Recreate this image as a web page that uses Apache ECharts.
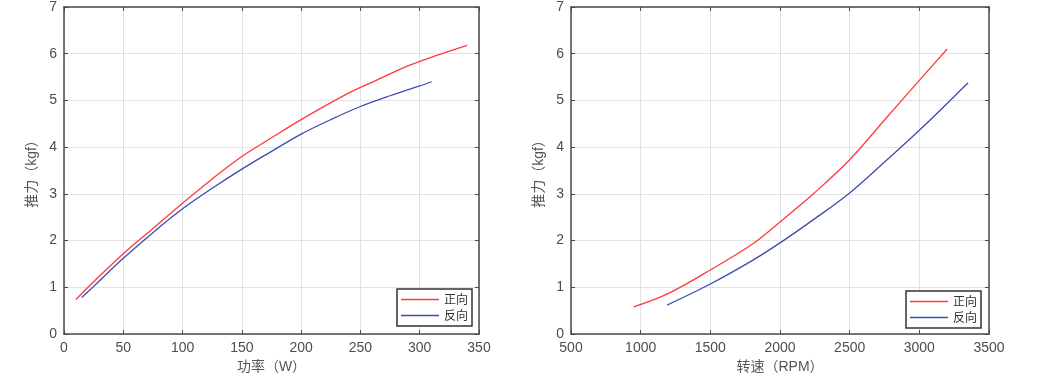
<!DOCTYPE html>
<html>
<head>
<meta charset="utf-8">
<script src="https://cdn.jsdelivr.net/npm/echarts@6/dist/echarts.min.js"></script>
<style>
html,body{margin:0;padding:0;background:#fff;}
#chart{width:1042px;height:387px;}
</style>
</head>
<body>
<div id="chart"></div>
<script>
// ---- Data ----
var seriesNames = ['正向', '反向'];
// Left: thrust vs power
var powerFwd  = [10, 25, 50, 75, 100, 125, 150, 175, 200, 238, 265, 290, 315, 340];
var thrustPFwd = [0.74, 1.12, 1.72, 2.26, 2.8, 3.32, 3.8, 4.2, 4.59, 5.13, 5.45, 5.74, 5.97, 6.18];
var powerRev  = [15, 25, 50, 75, 100, 125, 150, 175, 200, 225, 250, 275, 300, 310];
var thrustPRev = [0.78, 1.02, 1.62, 2.17, 2.68, 3.12, 3.53, 3.91, 4.28, 4.59, 4.87, 5.1, 5.31, 5.4];
// Right: thrust vs RPM
var rpmFwd  = [950, 1200, 1500, 1800, 2000, 2250, 2500, 2750, 3000, 3200];
var thrustRFwd = [0.58, 0.87, 1.37, 1.92, 2.4, 3.03, 3.73, 4.58, 5.43, 6.1];
var rpmRev  = [1190, 1500, 1800, 2000, 2250, 2500, 2750, 3000, 3350];
var thrustRRev = [0.62, 1.07, 1.57, 1.95, 2.47, 3.02, 3.68, 4.36, 5.38];
// Axis settings
var xNameLeft = '功率（W）';
var xNameRight = '转速（RPM）';
var yName = '推力（kgf）';

function pairs(xs, ys){ return xs.map(function(x,i){ return [x, ys[i]]; }); }

var RED = '#ff3a3a', BLUE = '#3b4db3';
var FRAME = '#4a4a4a', GRIDC = '#e2e2e2', LABC = '#4d4d4d';
var FONT = '"Liberation Sans", Arial, "Noto Sans CJK SC", sans-serif';

function xMain(gi, min, max, interval, name){
  return {
    type:'value', gridIndex:gi, position:'bottom', min:min, max:max, interval:interval,
    name:name, nameLocation:'middle', nameGap:25,
    nameTextStyle:{color:'#555', fontSize:14, fontFamily:FONT},
    axisLine:{show:true, onZero:false, lineStyle:{color:FRAME, width:1.5}},
    axisTick:{show:true, inside:true, length:4, lineStyle:{color:FRAME}},
    axisLabel:{color:LABC, fontSize:14, margin:7, fontFamily:FONT,
      formatter:function(v){ return String(v); }},
    splitLine:{show:true, lineStyle:{color:GRIDC, width:1}}
  };
}
function xTop(gi, min, max, interval){
  return {
    type:'value', gridIndex:gi, position:'top', min:min, max:max, interval:interval,
    axisLine:{show:true, onZero:false, lineStyle:{color:FRAME, width:1.5}},
    axisTick:{show:true, inside:true, length:4, lineStyle:{color:FRAME}},
    axisLabel:{show:false}, splitLine:{show:false}
  };
}
function yMain(gi){
  return {
    type:'value', gridIndex:gi, position:'left', min:0, max:7, interval:1,
    name:yName, nameLocation:'middle', nameGap:25, nameRotate:90,
    nameTextStyle:{color:'#555', fontSize:14, fontFamily:FONT},
    axisLine:{show:true, onZero:false, lineStyle:{color:FRAME, width:1.5}},
    axisTick:{show:true, inside:true, length:4, lineStyle:{color:FRAME}},
    axisLabel:{color:LABC, fontSize:14, margin:7, fontFamily:FONT},
    splitLine:{show:true, lineStyle:{color:GRIDC, width:1}}
  };
}
function yRight(gi){
  return {
    type:'value', gridIndex:gi, position:'right', min:0, max:7, interval:1,
    axisLine:{show:true, onZero:false, lineStyle:{color:FRAME, width:1.5}},
    axisTick:{show:true, inside:true, length:4, lineStyle:{color:FRAME}},
    axisLabel:{show:false}, splitLine:{show:false}
  };
}
function lineSeries(name, color, xi, yi, data){
  return {
    type:'line', name:name, xAxisIndex:xi, yAxisIndex:yi, data:data,
    showSymbol:false, symbol:'none', smooth:0.35,
    lineStyle:{color:color, width:1.3}, itemStyle:{color:color},
    animation:false
  };
}
function legend(left, top){
  return {
    data:seriesNames, orient:'vertical', left:left, top:top,
    icon:'rect', itemWidth:38, itemHeight:1.5, itemGap:3,
    padding:[4,4,4,4],
    borderColor:'#333', borderWidth:1.5, backgroundColor:'#fff',
    textStyle:{color:'#333', fontSize:12, lineHeight:13, fontFamily:'"Noto Sans CJK SC", sans-serif'},
    selectedMode:false
  };
}

var option = {
  backgroundColor:'#fff',
  animation:false,
  grid:[
    {left:64, top:5, width:415, height:329},
    {left:571, top:5, width:418, height:329}
  ],
  xAxis:[
    xMain(0, 0, 350, 50, xNameLeft),
    xTop(0, 0, 350, 50),
    xMain(1, 500, 3500, 500, xNameRight),
    xTop(1, 500, 3500, 500)
  ],
  yAxis:[ yMain(0), yRight(0), yMain(1), yRight(1) ],
  legend:[ legend(397, 289), legend(906, 291) ],
  series:[
    lineSeries(seriesNames[0], RED, 0, 0, pairs(powerFwd, thrustPFwd)),
    lineSeries(seriesNames[1], BLUE, 0, 0, pairs(powerRev, thrustPRev)),
    lineSeries(seriesNames[0], RED, 2, 2, pairs(rpmFwd, thrustRFwd)),
    lineSeries(seriesNames[1], BLUE, 2, 2, pairs(rpmRev, thrustRRev))
  ]
};
var chart = echarts.init(document.getElementById('chart'), null, {renderer:'canvas'});
chart.setOption(option);
</script>
</body>
</html>
